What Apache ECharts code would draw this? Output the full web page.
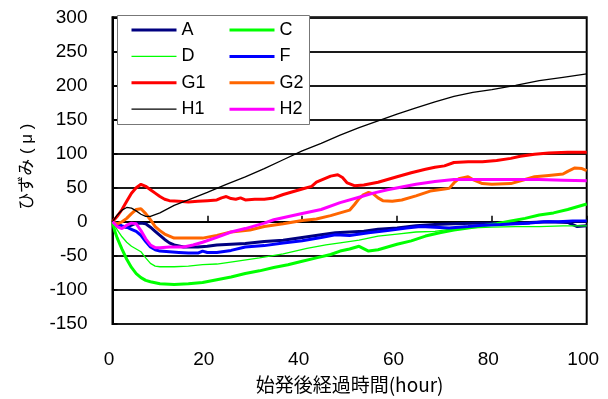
<!DOCTYPE html>
<html>
<head>
<meta charset="utf-8">
<script src="https://cdn.jsdelivr.net/npm/echarts@6/dist/echarts.min.js"></script>
<style>
  html, body { margin: 0; padding: 0; background: #fff; }
  #chart { width: 608px; height: 399px; }
</style>
</head>
<body>
<div id="chart"></div>
<script>
// Strain (μ) versus hours elapsed since the first train
const hoursA = [0,1,2,3,4,5,6,7,8,9,10,11,12,13,15,18,20,22,25,28,32,36,40,44,47,50,53,56,60,64,68,72,76,80,84,88,92,96,98,100];
const strainA = [0,-3,-7,-8,-5,-2,-2,-3,-8,-14,-20,-26,-31,-34,-37,-37,-36,-34,-33,-32,-29,-27,-23,-19,-16,-15,-14,-11,-9,-6,-4,-3,-2,-2,-2,-1,0,-1,-7,-6];

const hoursC = [0,0.5,1,2,3,4,5,6,7,8,10,13,16,19,22,25,28,31,34,37,40,43,46,48,50,52,54,56,58,60,63,66,69,72,75,78,81,84,87,90,93,96,98,100];
const strainC = [0,-14,-24,-40,-55,-67,-76,-82,-86,-88,-91,-92,-91,-89,-85,-81,-76,-72,-67,-63,-58,-53,-48,-43,-40,-36,-43,-41,-37,-33,-28,-21,-16,-12,-9,-6,-3,1,5,10,13,18,22,26];

const hoursD = [0,1,2,3,4,5,6,7,8,9,10,13,16,19,22,26,31,36,41,45,48,52,56,60,64,68,72,76,80,85,90,95,100];
const strainD = [0,-12,-22,-30,-36,-40,-44,-53,-61,-65,-66,-66,-65,-63,-62,-58,-53,-47,-39,-34,-31,-27,-21,-18,-15,-14,-10,-9,-8,-7,-7,-6,-6];

const hoursF = [0,1,2,3,4,5,6,7,8,9,10,12,14,16,18,19,20,22,25,28,32,36,40,44,47,50,54,58,62,65,68,71,75,78,82,85,88,91,94,97,100];
const strainF = [0,-3,-6,-8,-11,-14,-20,-29,-37,-41,-43,-44,-45,-46,-46,-43,-45,-45,-42,-37,-35,-31,-28,-23,-19,-20,-16,-13,-9,-7,-8,-9,-7,-5,-4,-3,-2,0,0,1,1];

const hoursG1 = [0,1,2,3,4,5,6,7,8,9,10,11,12,14,16,18,20,22,23,24,25,26,27,28,30,32,34,36,38,40,42,43,45,46,47.5,48.5,49.5,51,53,56,60,63,66,68,70,72,75,78,81,84,86,89,92,96,100];
const strainG1 = [0,8,18,30,42,50,55,52,47,42,37,33,31,30,29,30,31,32,35,37,34,33,35,32,33,33,35,40,44,48,52,58,64,67,69,65,57,53,54,58,66,72,77,80,82,87,88,88,90,93,96,99,101,102,102];

const hoursG2 = [0,1,2,3,4,5,6,7,8,9,10,11,12,13,16,19,22,25,29,32,36,40,43,46,48,50,51,52,53,54,55,56,57,59,61,64,67,70,71,72,73,75,76,78,80,84,87,89,92,95,96,97.5,99,100];
const strainG2 = [0,-3,0,5,12,18,19,12,3,-7,-13,-18,-21,-24,-24,-24,-20,-15,-12,-7,-3,2,4,9,13,17,25,34,40,43,41,35,31,30,32,38,45,48,49,57,63,66,62,56,55,56,62,66,68,70,74,79,78,75];

const hoursH1 = [0,1,2,3,4,5,6,7,8,10,13,16,20,24,28,32,36,40,44,48,52,56,60,64,68,72,76,80,85,90,95,100];
const strainH1 = [0,10,17,21,20,16,11,8,8,13,24,32,43,55,66,78,91,104,115,127,138,148,158,167,176,184,190,194,200,207,212,217];

const hoursH2 = [0,1,2,3,4,5,6,7,8,9,10,12,15,17,19,22,25,28,32,34,40,44,48,52,55,58,61,64,68,72,76,80,85,90,95,100];
const strainH2 = [0,-7,-10,-5,-2,-3,-13,-25,-34,-38,-38,-37,-37,-34,-30,-23,-15,-10,-2,3,12,18,28,36,42,47,51,55,59,62,62,62,62,62,61,60];

const yTicks = { min: -150, max: 300, step: 50 };
const xTicks = { min: 0, max: 100, step: 20 };

function pairs(h, v) { return h.map((t, i) => [t, v[i]]); }

const seriesDefs = [
  { name: 'A',  h: hoursA,  v: strainA,  color: '#000080', width: 3 },
  { name: 'C',  h: hoursC,  v: strainC,  color: '#00ff00', width: 3 },
  { name: 'D',  h: hoursD,  v: strainD,  color: '#00ff00', width: 1.3 },
  { name: 'F',  h: hoursF,  v: strainF,  color: '#0000ff', width: 3 },
  { name: 'G1', h: hoursG1, v: strainG1, color: '#ff0000', width: 3 },
  { name: 'G2', h: hoursG2, v: strainG2, color: '#ff6600', width: 3 },
  { name: 'H1', h: hoursH1, v: strainH1, color: '#000000', width: 1.3 },
  { name: 'H2', h: hoursH2, v: strainH2, color: '#ff00ff', width: 3 }
];

const latin = '"Liberation Sans", Arial, "Noto Sans CJK JP", sans-serif';
const cjk = '"Noto Sans CJK JP", sans-serif';

// legend entries carry their own line width so the key matches the plotted line
function legendItems(names) {
  return names.map(n => {
    const s = seriesDefs.find(d => d.name === n);
    return { name: n, lineStyle: { width: s.width, color: s.color } };
  });
}

const legendCommon = {
  orient: 'vertical',
  top: 21,
  padding: 0,
  itemWidth: 45,
  itemHeight: 14,
  itemGap: 8.4,
  z: 20,
  itemStyle: { opacity: 0 },
  textStyle: { fontFamily: latin, fontSize: 18, color: '#000', lineHeight: 18 }
};

const chart = echarts.init(document.getElementById('chart'), null, { renderer: 'canvas' });
chart.setOption({
  animation: false,
  backgroundColor: '#fff',
  grid: {
    left: 112.5, right: 21.3, top: 17.3, bottom: 71.7,
    show: true, borderColor: '#000', borderWidth: 2, backgroundColor: 'transparent'
  },
  graphic: [{
    type: 'rect', left: 117, top: 15, z: 10,
    shape: { width: 192, height: 109 },
    style: { fill: '#fff', stroke: '#777', lineWidth: 1 }
  }],
  legend: [
    Object.assign({ left: 130, data: legendItems(['A', 'D', 'G1', 'H1']) }, legendCommon),
    Object.assign({ left: 228, data: legendItems(['C', 'F', 'G2', 'H2']) }, legendCommon)
  ],
  xAxis: {
    type: 'value',
    min: xTicks.min, max: xTicks.max, interval: xTicks.step,
    name: '始発後経過時間(hour)',
    nameLocation: 'middle', nameGap: 51,
    nameTextStyle: { fontFamily: cjk, fontSize: 19, color: '#000' },
    axisLine: { show: true, lineStyle: { color: '#000', width: 2 } },
    axisTick: { show: true, inside: true, length: 6, lineStyle: { color: '#000', width: 1.5 } },
    axisLabel: { fontFamily: latin, fontSize: 19, color: '#000', margin: 26, padding: [0, 7, 0, 0] },
    splitLine: { show: false }
  },
  yAxis: {
    type: 'value',
    min: yTicks.min, max: yTicks.max, interval: yTicks.step,
    name: 'ひずみ ( μ )',
    nameLocation: 'middle', nameGap: 77,
    nameTextStyle: { fontFamily: latin, fontSize: 17, color: '#000', padding: [0, 0, 0, 8] },
    axisLine: { show: true, lineStyle: { color: '#000', width: 2 } },
    axisTick: { show: true, inside: true, length: 5, lineStyle: { color: '#000', width: 1.5 } },
    axisLabel: { fontFamily: latin, fontSize: 19, color: '#000', margin: 25, padding: [6, 0, 0, 0] },
    splitLine: { show: true, lineStyle: { color: '#1a1a1a', width: 2 } }
  },
  series: seriesDefs.map(s => ({
    name: s.name,
    type: 'line',
    data: pairs(s.h, s.v),
    symbol: 'none',
    showSymbol: false,
    color: s.color,
    lineStyle: { color: s.color, width: s.width },
    itemStyle: { color: s.color },
    emphasis: { disabled: true }
  }))
});
</script>
</body>
</html>
